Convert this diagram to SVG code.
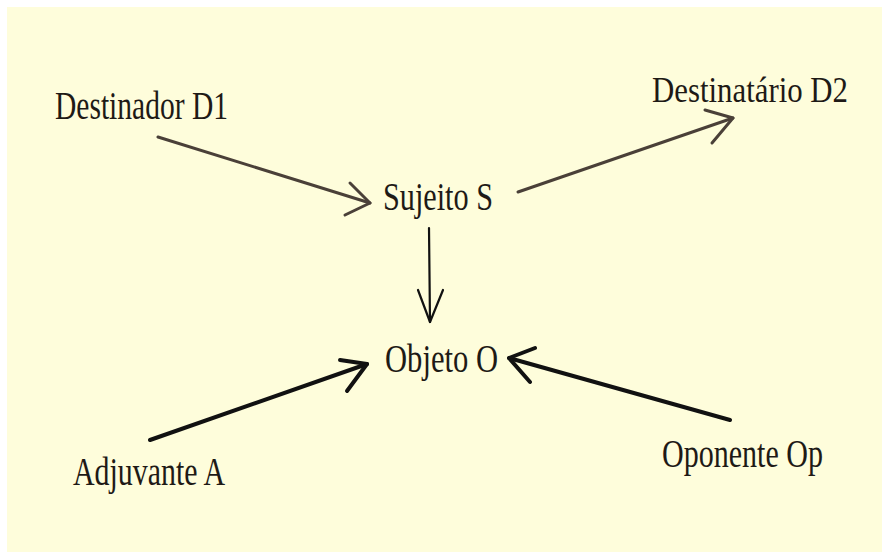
<svg xmlns="http://www.w3.org/2000/svg" width="882" height="552" viewBox="0 0 882 552">
<style>
.lbl{font-family:"Liberation Serif","Times New Roman",serif;fill:#1e1a16}
.soft{stroke:#4a4038;stroke-width:3;fill:none;stroke-linecap:round;stroke-linejoin:round}
.hard{stroke:#111;stroke-width:4;fill:none;stroke-linecap:round;stroke-linejoin:round}
.thin{stroke:#111;stroke-width:2.2;fill:none;stroke-linecap:round;stroke-linejoin:round}
</style>
<rect x="0" y="0" width="882" height="552" fill="#ffffff"/>
<rect x="7" y="7" width="875" height="545" fill="#fefddb"/>
<g id="connectors">
<path class="soft" d="M158 137 L370 203"/>
<path class="soft" d="M350 183 L370 203 L345 215"/>
<path class="soft" d="M518 192 L733 118"/>
<path class="soft" d="M705 110 L733 118 L712 143"/>
<path class="thin" d="M429 228 L430 322"/>
<path class="thin" d="M418 290 L430 322 L443 290"/>
<path class="hard" d="M150 440 L367 364"/>
<path class="hard" d="M340 360 L367 364 L347 391"/>
<path class="hard" d="M730 420 L509 358"/>
<path class="hard" d="M535 348 L509 358 L530 382"/>
</g>
<g id="destinador"><text class="lbl" x="55" y="119" font-size="39" textLength="173" lengthAdjust="spacingAndGlyphs">Destinador D1</text></g>
<g id="destinatario"><text class="lbl" x="652" y="102" font-size="35" textLength="196" lengthAdjust="spacingAndGlyphs">Destinatário D2</text></g>
<g id="sujeito"><text class="lbl" x="383" y="210" font-size="39" textLength="110" lengthAdjust="spacingAndGlyphs">Sujeito S</text></g>
<g id="objeto"><text class="lbl" x="385" y="372" font-size="41" textLength="113" lengthAdjust="spacingAndGlyphs">Objeto O</text></g>
<g id="adjuvante"><text class="lbl" x="73" y="485" font-size="39" textLength="152" lengthAdjust="spacingAndGlyphs">Adjuvante A</text></g>
<g id="oponente"><text class="lbl" x="662" y="467" font-size="40" textLength="161" lengthAdjust="spacingAndGlyphs">Oponente Op</text></g>
</svg>
